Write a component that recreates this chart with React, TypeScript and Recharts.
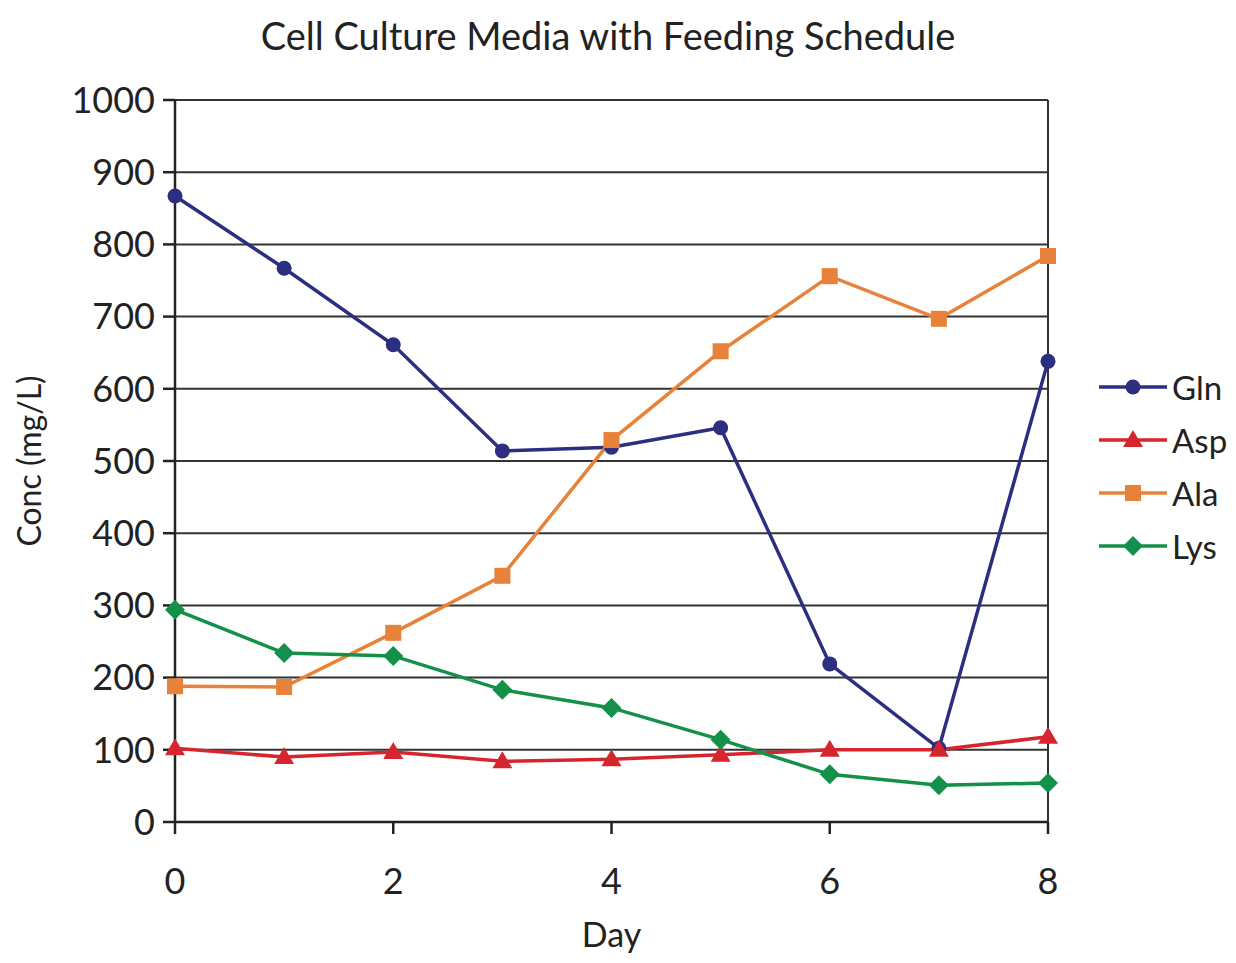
import React from "react";
import {
  LineChart,
  Line,
  XAxis,
  YAxis,
  CartesianGrid,
  ReferenceLine,
} from "recharts";

const days = [0, 1, 2, 3, 4, 5, 6, 7, 8];
const gln = [867, 767, 661, 514, 519, 546, 219, 102, 638];
const asp = [102, 90, 97, 84, 87, 93, 100, 100, 118];
const ala = [188, 187, 262, 341, 529, 652, 756, 697, 784];
const lys = [294, 234, 230, 183, 158, 114, 66, 51, 54];

const yTicks = [0, 100, 200, 300, 400, 500, 600, 700, 800, 900, 1000];
const xTicks = [0, 2, 4, 6, 8];

const data = days.map((d, i) => ({
  day: d,
  Gln: gln[i],
  Asp: asp[i],
  Ala: ala[i],
  Lys: lys[i],
}));

const FONT = "Lato, 'Open Sans', sans-serif";

type Shape = "circle" | "triangle" | "square" | "diamond";

const Marker = ({ cx, cy, shape, color }: { cx: number; cy: number; shape: Shape; color: string }) => {
  if (shape === "circle") return <circle cx={cx} cy={cy} r={7.5} fill={color} />;
  if (shape === "triangle")
    return <polygon points={`${cx},${cy - 10} ${cx + 10},${cy + 7} ${cx - 10},${cy + 7}`} fill={color} />;
  if (shape === "square") return <rect x={cx - 8} y={cy - 8} width={16} height={16} fill={color} />;
  return <polygon points={`${cx},${cy - 10} ${cx + 10},${cy} ${cx},${cy + 10} ${cx - 10},${cy}`} fill={color} />;
};

const series: { key: string; color: string; shape: Shape }[] = [
  { key: "Gln", color: "#2c2f80", shape: "circle" },
  { key: "Asp", color: "#d5262f", shape: "triangle" },
  { key: "Ala", color: "#e8823a", shape: "square" },
  { key: "Lys", color: "#13904a", shape: "diamond" },
];

const LegendBox = () => (
  <div style={{ position: "absolute", left: 1099, top: 360, width: 130 }}>
    {series.map((s) => (
      <div key={s.key} style={{ display: "flex", alignItems: "center", height: 53, whiteSpace: "nowrap" }}>
        <svg width={70} height={24} style={{ flex: "none" }}>
          <line x1={0} y1={12} x2={68} y2={12} stroke={s.color} strokeWidth={3.5} />
          <Marker cx={34} cy={12} shape={s.shape} color={s.color} />
        </svg>
        <span style={{ fontFamily: FONT, fontSize: 33, color: "#222", marginLeft: 3 }}>{s.key}</span>
      </div>
    ))}
  </div>
);

export default function App() {
  return (
    <div style={{ margin: -8, position: "relative", width: 1236, height: 963, background: "#fff" }}>
      <div
        style={{
          position: "absolute",
          top: 12,
          left: 0,
          width: 1216,
          textAlign: "center",
          fontFamily: FONT,
          fontSize: 38,
          color: "#222",
        }}
      >
        Cell Culture Media with Feeding Schedule
      </div>
      <LineChart
        width={1236}
        height={963}
        data={data}
        margin={{ top: 100, right: 188, bottom: 0, left: 0 }}
      >
        <CartesianGrid vertical={false} stroke="#333" strokeWidth={2} />
        <ReferenceLine x={8} stroke="#333" strokeWidth={2} />
        <XAxis
          dataKey="day"
          type="number"
          domain={[0, 8]}
          ticks={xTicks}
          height={141}
          stroke="#222"
          strokeWidth={2.5}
          tickSize={12}
          tickMargin={34}
          tick={{ fill: "#222", fontSize: 36, fontFamily: FONT }}
          label={{
            value: "Day",
            position: "insideBottom",
            offset: 16,
            fill: "#222",
            fontSize: 34,
            fontFamily: FONT,
          }}
        />
        <YAxis
          width={175}
          domain={[0, 1000]}
          ticks={yTicks}
          interval={0}
          stroke="#222"
          strokeWidth={2.5}
          tickSize={12}
          tickMargin={8}
          tick={{ fill: "#222", fontSize: 36, fontFamily: FONT }}
          label={{
            value: "Conc (mg/L)",
            angle: -90,
            position: "insideLeft",
            offset: 30,
            style: { textAnchor: "middle" },
            fill: "#222",
            fontSize: 32,
            fontFamily: FONT,
          }}
        />
        {series.map((s) => (
          <Line
            key={s.key}
            dataKey={s.key}
            stroke={s.color}
            strokeWidth={3.5}
            isAnimationActive={false}
            activeDot={false}
            dot={(p: any) => <Marker key={`${s.key}-${p.index}`} cx={p.cx} cy={p.cy} shape={s.shape} color={s.color} />}
          />
        ))}
      </LineChart>
      <LegendBox />
    </div>
  );
}
